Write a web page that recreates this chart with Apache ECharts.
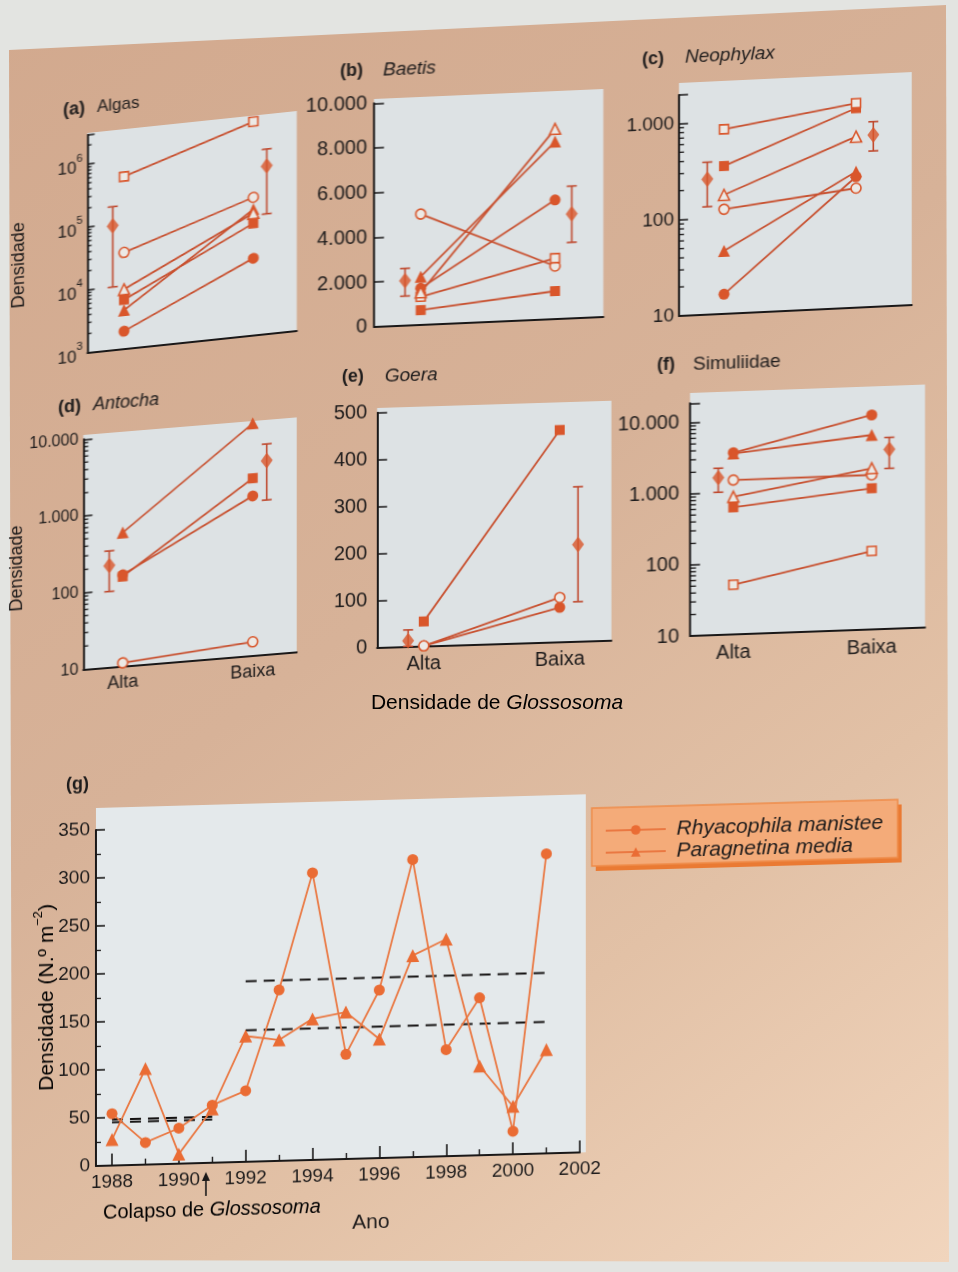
<!DOCTYPE html>
<html>
<head>
<meta charset="utf-8">
<title>Densidade de Glossosoma</title>
<script src="https://cdn.jsdelivr.net/npm/echarts@6/dist/echarts.min.js"></script>
<style>
  html, body { margin: 0; padding: 0; background: #e3e4e1; }
  #stage { position: relative; width: 958px; height: 1272px; overflow: hidden; }
  .layer { position: absolute; left: 0; top: 0; width: 958px; height: 1272px; }
</style>
</head>
<body>
<div id="stage"></div>
<script>
// ---------------- data ----------------
// Order of the six streams in every panel (marker type identifies the stream)
const siteKeys = ['filledCircle', 'openCircle', 'filledSquare', 'openSquare', 'filledTriangle', 'openTriangle'];
const groupLabels = ['Alta', 'Baixa'];

// (a) Algas
const algasAlta  = [1900, 34000, 6000, 550000, 4100, 8800];
const algasBaixa = [16700, 156000, 60000, 2500000, 100000, 87000];
const algasMean  = [94000, 470000];
const algasLow   = [10000, 81000];
const algasHigh  = [190000, 870000];

// (b) Baetis
const baetisAlta  = [1630, 4950, 650, 1250, 2150, 1450];
const baetisBaixa = [5320, 2360, 1240, 2710, 7930, 8500];
const baetisMean  = [2000, 4660];
const baetisLow   = [1310, 3390];
const baetisHigh  = [2550, 5910];

// (c) Neophylax
const neophylaxAlta  = [16, 122, 343, 826, 45, 172];
const neophylaxBaixa = [229, 174, 1178, 1327, 258, 597];
const neophylaxMean  = [255, 610];
const neophylaxLow   = [132, 416];
const neophylaxHigh  = [383, 838];

// (d) Antocha
const antochaAlta  = [155, 11, 147, null, 550, null];
const antochaBaixa = [1200, 15, 2040, null, 10600, null];
const antochaMean  = [211, 3340];
const antochaLow   = [97, 1026];
const antochaHigh  = [328, 5520];

// (e) Goera
const goeraAlta  = [0, 0, 52, null, null, null];
const goeraBaixa = [73, 94, 451, null, null, null];
const goeraMean  = [12, 206];
const goeraLow   = [0, 84];
const goeraHigh  = [35, 329];

// (f) Simuliidae
const simuliidaeAlta  = [3600, 1485, 613, 50, 3500, 865];
const simuliidaeBaixa = [10400, 1490, 968, 127, 5440, 1850];
const simuliidaeMean  = [1630, 3350];
const simuliidaeLow   = [1016, 1809];
const simuliidaeHigh  = [2213, 4930];

// (g) yearly densities
const years        = [1988, 1989, 1990, 1991, 1992, 1993, 1994, 1995, 1996, 1997, 1998, 1999, 2000, 2001];
const rhyacophila  = [54, 23, 37, 60, 74, 178, 299, 109, 175, 310, 111, 164, 24, 312];
const paragnetina  = [27, 100, 10, 56, 131, 126, 147, 153, 124, 210, 226, 93, 50, 108];
const meanPeriodBefore = [1988, 1991];
const meanPeriodAfter  = [1992, 2001];
const meansBefore = [48, 45];
const meansAfter  = [188, 137];
const yearLabels  = [1988, 1990, 1992, 1994, 1996, 1998, 2000, 2002];
const oddYearTicks = [1989, 1991, 1993, 1995, 1997, 1999, 2001];

// ---------------- styles ----------------
const FONT = '"Liberation Sans", Arial, Helvetica, sans-serif';
const INK = '#1d1b1b';
const AXIS = '#1a1818';
const LINE = '#c8502f';
const MARK = '#d9562b';
const OPEN_FILL = '#ece9e5';
const ERR = '#bf482d';
const PANEL_BG = '#dde2e4';
const G_LINE = '#ea7842';
const G_MARK = '#ea6c34';

const markerStyles = {
  filledCircle:   { symbol: 'circle',   size: 11, fill: MARK },
  openCircle:     { symbol: 'circle',   size: 10, fill: OPEN_FILL },
  filledSquare:   { symbol: 'rect',     size: 10, fill: MARK },
  openSquare:     { symbol: 'rect',     size: 9,  fill: OPEN_FILL },
  filledTriangle: { symbol: 'triangle', size: 12, fill: MARK },
  openTriangle:   { symbol: 'triangle', size: 11, fill: OPEN_FILL }
};

// Panel geometry (page pixels, before the slight page shear is applied)
const panels = [
  { tag: '(a)', name: 'Algas', italic: false,
    alta: algasAlta, baixa: algasBaixa, mean: algasMean, low: algasLow, high: algasHigh,
    L: { X0: 87.5, Y0: 352.5, top: 135, width: 209.2, bgTop: 133, slope: -0.105,
         altaDX: 36.5, baixaDX: 165.8, errDX: [25.2, 179.2],
         log: true, yMin: 1e3, yMax: 2.9e6, fmt: 'pow', fontSize: 17, margin: 5, tickLen: 7, minorLen: 4,
         showX: false, tagX: 63, nameX: 97, titleY: 108, titleSize: 17, yName: [19, 258] } },
  { tag: '(b)', name: 'Baetis', italic: true,
    alta: baetisAlta, baixa: baetisBaixa, mean: baetisMean, low: baetisLow, high: baetisHigh,
    L: { X0: 374, Y0: 326.7, top: 103.3, width: 229.3, bgTop: 99, slope: -0.0436,
         altaDX: 46.7, baixaDX: 181, errDX: [31, 197.7],
         log: false, yMax: 10000, interval: 2000, fontSize: 20, margin: 7, tickLen: 10,
         showX: false, tagX: 340, nameX: 383, titleY: 70.5, titleSize: 19 } },
  { tag: '(c)', name: 'Neophylax', italic: true,
    alta: neophylaxAlta, baixa: neophylaxBaixa, mean: neophylaxMean, low: neophylaxLow, high: neophylaxHigh,
    L: { X0: 679, Y0: 316, top: 95, width: 232.7, bgTop: 83, slope: -0.047,
         altaDX: 45, baixaDX: 177, errDX: [28.3, 194.3],
         log: true, yMin: 10, yMax: 1970, fmt: 'dots', fontSize: 19, margin: 5, tickLen: 9, minorLen: 5,
         showX: false, tagX: 642, nameX: 685, titleY: 58, titleSize: 19 } },
  { tag: '(d)', name: 'Antocha', italic: true,
    alta: antochaAlta, baixa: antochaBaixa, mean: antochaMean, low: antochaLow, high: antochaHigh,
    L: { X0: 83.3, Y0: 669.3, top: 439.3, width: 213.4, bgTop: 435, slope: -0.0825,
         altaDX: 39.4, baixaDX: 169.4, errDX: [26, 183.4],
         log: true, yMin: 10, yMax: 10000, fmt: 'dots', fontSize: 16, margin: 5, tickLen: 9, minorLen: 5,
         showX: true, xFont: 18, tagX: 58, nameX: 93, titleY: 406, titleSize: 18, yName: [17, 563] } },
  { tag: '(e)', name: 'Goera', italic: true,
    alta: goeraAlta, baixa: goeraBaixa, mean: goeraMean, low: goeraLow, high: goeraHigh,
    L: { X0: 377.3, Y0: 647.3, top: 412.7, width: 234.4, bgTop: 408, slope: -0.031,
         altaDX: 46.7, baixaDX: 182.7, errDX: [31, 201],
         log: false, yMax: 500, interval: 100, fontSize: 20, margin: 10, tickLen: 10,
         showX: true, xFont: 20, tagX: 342, nameX: 385, titleY: 376.5, titleSize: 19 } },
  { tag: '(f)', name: 'Simuliidae', italic: false,
    alta: simuliidaeAlta, baixa: simuliidaeBaixa, mean: simuliidaeMean, low: simuliidaeLow, high: simuliidaeHigh,
    L: { X0: 690, Y0: 636, top: 403.3, width: 235, bgTop: 393, slope: -0.036,
         altaDX: 43.3, baixaDX: 181.7, errDX: [28.3, 199.3],
         log: true, yMin: 10, yMax: 18750, fmt: 'dots', fontSize: 20, margin: 11, tickLen: 10, minorLen: 6,
         showX: true, xFont: 20, tagX: 657, nameX: 693, titleY: 364.5, titleSize: 19 } }
];

const gLayout = { X0: 96, Y0: 1166, top: 830, width: 484, bgTop: 808, bgWidth: 490, slope: -0.028, xMin: 1987.52, xMax: 2002 };

// ---------------- helpers ----------------
function fmtThousands(v) {
  return String(Math.round(v)).replace(/\B(?=(\d{3})+(?!\d))/g, '.');
}

function logMinorValues(min, max) {
  const out = [];
  for (let d = Math.floor(Math.log10(min)); Math.pow(10, d) <= max; d++) {
    for (let k = 2; k <= 9; k++) {
      const v = k * Math.pow(10, d);
      if (v > min && v < max) out.push(v);
    }
  }
  return out;
}

function errorBarItem(params, api) {
  const x = api.value(0);
  const lo = api.coord([x, api.value(1)]);
  const hi = api.coord([x, api.value(2)]);
  const c = 5;
  const st = { stroke: ERR, lineWidth: 1.6 };
  return { type: 'group', children: [
    { type: 'line', shape: { x1: lo[0], y1: lo[1], x2: hi[0], y2: hi[1] }, style: st },
    { type: 'line', shape: { x1: lo[0] - c, y1: lo[1], x2: lo[0] + c, y2: lo[1] }, style: st },
    { type: 'line', shape: { x1: hi[0] - c, y1: hi[1], x2: hi[0] + c, y2: hi[1] }, style: st }
  ] };
}

function minorTickItem(len) {
  return function (params, api) {
    const p = api.coord([api.value(0), api.value(1)]);
    return { type: 'line', shape: { x1: p[0], y1: p[1], x2: p[0] + len, y2: p[1] },
             style: { stroke: AXIS, lineWidth: 1.3 } };
  };
}

function makeLayer(zIndex) {
  const div = document.createElement('div');
  div.className = 'layer';
  div.style.zIndex = zIndex;
  document.getElementById('stage').appendChild(div);
  return div;
}

function shear(div, X0, Y0, slope) {
  div.style.transformOrigin = X0 + 'px ' + Y0 + 'px';
  div.style.transform = 'skewY(' + (Math.atan(slope) * 180 / Math.PI) + 'deg)';
}

// ---------------- page ----------------
const baseChart = echarts.init(makeLayer(0));
baseChart.setOption({
  animation: false,
  graphic: [
    { type: 'rect', shape: { x: 0, y: 0, width: 958, height: 1272 }, style: { fill: '#e3e4e1' }, silent: true },
    { type: 'polygon', shape: { points: [[9, 50], [946, 5], [949, 1262], [12, 1260]] }, silent: true,
      style: { fill: { type: 'linear', x: 0, y: 0, x2: 1, y2: 1, colorStops: [
        { offset: 0, color: '#d2a98e' }, { offset: 0.45, color: '#d7b298' },
        { offset: 0.72, color: '#e2c1a6' }, { offset: 1, color: '#f1d5bd' } ] } } },
    { type: 'text', x: 497, y: 703, silent: true,
      style: { text: '{n|Densidade de }{i|Glossosoma}', align: 'center', verticalAlign: 'middle',
        rich: { n: { fontFamily: FONT, fontSize: 21, color: INK },
                i: { fontFamily: FONT, fontSize: 21, fontStyle: 'italic', color: INK } } } }
  ]
});

// ---------------- panels (a)–(f) ----------------
function buildPanel(p) {
  const L = p.L;
  const unit = L.baixaDX - L.altaDX;
  const xMin = 1 - L.altaDX / unit;
  const xMax = xMin + L.width / unit;
  const xErr = [1 - (L.altaDX - L.errDX[0]) / unit, 2 + (L.errDX[1] - L.baixaDX) / unit];

  const series = [];
  siteKeys.forEach(function (key, i) {
    if (p.alta[i] == null) return;
    const m = markerStyles[key];
    series.push({
      type: 'line', name: key, data: [[1, p.alta[i]], [2, p.baixa[i]]],
      symbol: m.symbol, symbolSize: m.size, showSymbol: true,
      lineStyle: { color: LINE, width: 1.8 },
      itemStyle: { color: m.fill, borderColor: MARK, borderWidth: m.fill === MARK ? 0 : 1.6 },
      clip: false, z: 3, silent: true
    });
  });
  series.push({ type: 'custom', data: xErr.map(function (x, i) { return [x, p.low[i], p.high[i]]; }),
    renderItem: errorBarItem, clip: false, z: 4, silent: true });
  series.push({ type: 'scatter', data: xErr.map(function (x, i) { return [x, p.mean[i]]; }),
    symbol: 'diamond', symbolSize: [12, 16], itemStyle: { color: MARK }, z: 5, silent: true });
  if (L.log) {
    series.push({ type: 'custom', data: logMinorValues(L.yMin, L.yMax).map(function (v) { return [xMin, v]; }),
      renderItem: minorTickItem(L.minorLen), clip: false, z: 2, silent: true });
  }

  const yLabel = {
    fontFamily: FONT, fontSize: L.fontSize, color: INK, margin: L.margin,
    formatter: function (v) {
      if (L.log) {
        const e = Math.log10(v);
        if (Math.abs(e - Math.round(e)) > 1e-6) return '';
        if (L.fmt === 'pow') return '{b|10}{s|' + Math.round(e) + '}';
      }
      return fmtThousands(v);
    }
  };
  if (L.fmt === 'pow') {
    yLabel.rich = {
      b: { fontFamily: FONT, fontSize: L.fontSize, color: INK, lineHeight: 24, verticalAlign: 'bottom' },
      s: { fontFamily: FONT, fontSize: 11, color: INK, lineHeight: 24, verticalAlign: 'top' }
    };
  }

  const yAxis = L.log
    ? { type: 'log', logBase: 10, min: L.yMin, max: L.yMax }
    : { type: 'value', min: 0, max: L.yMax, interval: L.interval };
  Object.assign(yAxis, {
    axisLine: { show: true, onZero: false, lineStyle: { color: AXIS, width: 2 } },
    axisTick: { show: true, inside: true, length: L.tickLen, lineStyle: { color: AXIS, width: 1.5 } },
    splitLine: { show: false },
    axisLabel: yLabel
  });

  const graphic = [
    { type: 'rect', shape: { x: L.X0, y: L.bgTop, width: L.width, height: L.Y0 - L.bgTop },
      style: { fill: PANEL_BG }, z: -10, silent: true },
    { type: 'text', x: L.tagX, y: L.titleY, silent: true,
      style: { text: p.tag, fontFamily: FONT, fontWeight: 'bold', fontSize: 18, fill: INK, verticalAlign: 'middle' } },
    { type: 'text', x: L.nameX, y: L.titleY, silent: true,
      style: { text: p.name, fontFamily: FONT, fontStyle: p.italic ? 'italic' : 'normal', fontSize: L.titleSize,
               fill: INK, verticalAlign: 'middle' } }
  ];
  if (L.yName) {
    graphic.push({ type: 'text', x: L.yName[0], y: L.yName[1], rotation: Math.PI / 2, silent: true,
      style: { text: 'Densidade', fontFamily: FONT, fontSize: 18, fill: INK, align: 'center', verticalAlign: 'middle' } });
  }

  return {
    animation: false,
    grid: { left: L.X0, top: L.top, width: L.width, height: L.Y0 - L.top, show: false, outerBoundsMode: 'none' },
    xAxis: {
      type: 'value', min: xMin, max: xMax,
      axisLine: { show: true, onZero: false, lineStyle: { color: AXIS, width: 2 } },
      axisTick: { show: false }, splitLine: { show: false },
      axisLabel: L.showX ? {
        customValues: [1, 2], fontFamily: FONT, fontSize: L.xFont, color: INK, margin: 8,
        formatter: function (v) { return groupLabels[Math.round(v) - 1]; }
      } : { show: false }
    },
    yAxis: yAxis,
    series: series,
    graphic: graphic
  };
}

panels.forEach(function (p, i) {
  const div = makeLayer(10 + i);
  shear(div, p.L.X0, p.L.Y0, p.L.slope);
  echarts.init(div).setOption(buildPanel(p));
});

// ---------------- panel (g) ----------------
(function () {
  const G = gLayout;
  const div = makeLayer(30);
  shear(div, G.X0, G.Y0, G.slope);

  const dash = { color: '#151313', width: 2, type: [11, 7] };
  const refLines = [];
  meansBefore.forEach(function (v) {
    refLines.push({ type: 'line', data: [[meanPeriodBefore[0], v], [meanPeriodBefore[1], v]],
      symbol: 'none', lineStyle: dash, z: 2, silent: true });
  });
  meansAfter.forEach(function (v) {
    refLines.push({ type: 'line', data: [[meanPeriodAfter[0], v], [meanPeriodAfter[1], v]],
      symbol: 'none', lineStyle: dash, z: 2, silent: true });
  });

  const legendBox = { x: 592, y: 822, w: 306, h: 58 };

  echarts.init(div).setOption({
    animation: false,
    grid: { left: G.X0, top: G.top, width: G.width, height: G.Y0 - G.top, show: false, outerBoundsMode: 'none' },
    xAxis: [
      { type: 'value', min: G.xMin, max: G.xMax,
        axisLine: { show: true, onZero: false, lineStyle: { color: AXIS, width: 2 } },
        axisTick: { show: true, inside: true, length: 12, customValues: yearLabels, lineStyle: { color: AXIS, width: 1.6 } },
        axisLabel: { customValues: yearLabels, fontFamily: FONT, fontSize: 19, color: INK, margin: 7,
                     formatter: function (v) { return String(v); } },
        splitLine: { show: false } },
      { type: 'value', position: 'bottom', min: G.xMin, max: G.xMax,
        axisLine: { show: false },
        axisTick: { show: true, inside: true, length: 6, customValues: oddYearTicks, lineStyle: { color: AXIS, width: 1.4 } },
        axisLabel: { show: false }, splitLine: { show: false } }
    ],
    yAxis: { type: 'value', min: 0, max: 350, interval: 50,
      axisLine: { show: true, onZero: false, lineStyle: { color: AXIS, width: 2 } },
      axisTick: { show: true, inside: true, length: 9, lineStyle: { color: AXIS, width: 1.6 } },
      minorTick: { show: true, splitNumber: 2, length: 5, lineStyle: { color: AXIS, width: 1.3 } },
      axisLabel: { fontFamily: FONT, fontSize: 19, color: INK, margin: 6 },
      splitLine: { show: false } },
    legend: {
      orient: 'vertical', left: 605, top: 834, padding: 0, itemGap: 0,
      itemWidth: 60, itemHeight: 12,
      formatter: function (name) { return ' ' + name; },
      textStyle: { fontFamily: FONT, fontSize: 21, fontStyle: 'italic', color: INK, lineHeight: 22 },
      data: ['Rhyacophila manistee', 'Paragnetina media'],
      selectedMode: false
    },
    series: [
      { type: 'line', name: 'Rhyacophila manistee', data: years.map(function (y, i) { return [y, rhyacophila[i]]; }),
        symbol: 'circle', symbolSize: 11, lineStyle: { color: G_LINE, width: 1.8 },
        itemStyle: { color: G_MARK }, z: 4, clip: false, silent: true },
      { type: 'line', name: 'Paragnetina media', data: years.map(function (y, i) { return [y, paragnetina[i]]; }),
        symbol: 'triangle', symbolSize: 13, lineStyle: { color: G_LINE, width: 1.8 },
        itemStyle: { color: G_MARK }, z: 4, clip: false, silent: true }
    ].concat(refLines),
    graphic: [
      { type: 'rect', shape: { x: G.X0, y: G.bgTop, width: G.bgWidth, height: G.Y0 - G.bgTop },
        style: { fill: '#e4e9eb' }, z: -10, silent: true },
      { type: 'rect', shape: { x: legendBox.x + 4, y: legendBox.y + 5, width: legendBox.w, height: legendBox.h },
        style: { fill: '#ea7a33' }, z: -5, silent: true },
      { type: 'rect', shape: { x: legendBox.x, y: legendBox.y, width: legendBox.w, height: legendBox.h },
        style: { fill: '#f4ab79', stroke: '#ee8c4a', lineWidth: 1.5 }, z: -4, silent: true },
      { type: 'text', x: 66, y: 784, silent: true,
        style: { text: '(g)', fontFamily: FONT, fontWeight: 'bold', fontSize: 18, fill: INK, verticalAlign: 'middle' } },
      { type: 'text', x: 45, y: 996, rotation: Math.PI / 2, silent: true,
        style: { text: '{n|Densidade (N.º m}{s|−2}{n|)}', align: 'center', verticalAlign: 'middle',
          rich: { n: { fontFamily: FONT, fontSize: 21, color: INK, lineHeight: 26, verticalAlign: 'bottom' },
                  s: { fontFamily: FONT, fontSize: 13, color: INK, lineHeight: 26, verticalAlign: 'top' } } } },
      { type: 'line', shape: { x1: 206, y1: 1199, x2: 206, y2: 1182 }, style: { stroke: AXIS, lineWidth: 1.6 }, silent: true },
      { type: 'polygon', shape: { points: [[202, 1184], [210, 1184], [206, 1175]] }, style: { fill: AXIS }, silent: true },
      { type: 'text', x: 103, y: 1213, silent: true,
        style: { text: '{n|Colapso de }{i|Glossosoma}', verticalAlign: 'middle',
          rich: { n: { fontFamily: FONT, fontSize: 20, color: INK },
                  i: { fontFamily: FONT, fontSize: 20, fontStyle: 'italic', color: INK } } } },
      { type: 'text', x: 371, y: 1230, silent: true,
        style: { text: 'Ano', fontFamily: FONT, fontSize: 21, fill: INK, align: 'center', verticalAlign: 'middle' } }
    ]
  });
})();
</script>
</body>
</html>
